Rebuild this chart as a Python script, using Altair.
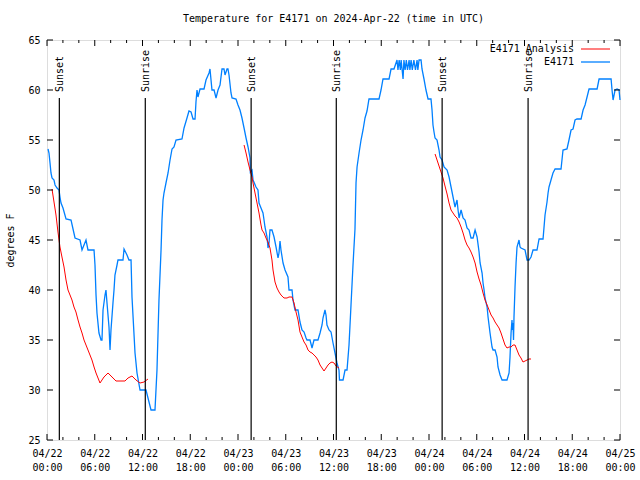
import json
import altair as alt
import pandas as pd

TITLE = "Temperature for E4171 on 2024-Apr-22 (time in UTC)"
FONT = "DejaVu Sans Mono"

# hours after 2024-04-22 00:00 UTC
blue_h = [0.13, 0.25, 0.38, 0.50, 0.63, 0.88, 1.01, 1.26, 1.51, 1.63,
          1.76, 2.01, 2.39, 3.02, 3.27, 3.52, 4.15, 4.40, 4.90, 5.15,
          5.91, 6.03, 6.16, 6.28, 6.53, 6.79, 6.91, 7.04, 7.29, 7.41,
          7.54, 7.79, 7.92, 8.04, 8.29, 8.42, 8.54, 8.80, 8.92, 9.55,
          9.68, 10.05, 10.30, 10.56, 10.68, 11.06, 11.31, 11.69, 12.44, 12.69,
          13.07, 13.57, 13.82, 14.07, 14.33, 14.45, 14.58, 14.70, 14.95, 15.21,
          15.46, 15.71, 15.96, 16.21, 16.96, 17.22, 17.59, 17.84, 18.10, 18.35,
          18.60, 18.72, 18.85, 18.97, 19.23, 19.73, 19.98, 20.36, 20.48, 20.73,
          20.99, 21.24, 21.49, 21.74, 21.99, 22.24, 22.37, 22.62, 22.74, 22.87,
          23.12, 23.25, 23.75, 24.00, 24.25, 24.50, 24.76, 25.01, 25.26, 25.51,
          25.55, 25.76, 25.89, 26.26, 26.51, 26.64, 26.89, 27.14, 27.27, 27.39,
          27.65, 27.77, 27.90, 28.02, 28.27, 28.53, 28.78, 29.03, 29.15, 29.28,
          29.40, 29.66, 29.91, 30.28, 30.41, 30.79, 30.91, 31.16, 31.54, 31.79,
          32.04, 32.30, 32.55, 32.67, 33.05, 33.30, 33.55, 34.05, 34.31, 34.56,
          34.68, 34.93, 35.06, 35.18, 35.44, 35.69, 35.94, 36.19, 36.44, 36.69,
          36.75, 37.20, 37.45, 37.70, 37.95, 38.20, 38.45, 38.70, 38.83, 38.96,
          39.21, 39.46, 39.71, 39.96, 40.21, 40.46, 41.72, 41.97, 42.22, 42.98,
          43.23, 43.60, 43.98, 44.10, 44.25, 44.40, 44.50, 44.74, 44.85, 45.00,
          45.15, 45.30, 45.50, 45.60, 45.75, 45.90, 46.10, 46.30, 46.50, 46.60,
          46.75, 47.00, 47.12, 47.37, 47.62, 47.88, 48.25, 48.38, 48.50, 48.63,
          48.76, 49.01, 49.26, 49.39, 49.64, 49.89, 50.27, 50.52, 50.77, 51.02,
          51.27, 51.52, 51.65, 51.78, 52.03, 52.28, 52.53, 52.78, 53.03, 53.28,
          53.54, 53.79, 54.04, 54.29, 54.42, 54.67, 54.79, 54.92, 55.04, 55.30,
          55.42, 55.67, 55.92, 56.05, 56.30, 56.55, 56.67, 56.93, 57.18, 57.80,
          58.06, 58.18, 58.31, 58.43, 58.49, 58.56, 58.62, 58.68, 58.81, 58.94,
          59.06, 59.31, 59.44, 59.56, 60.07, 60.32, 60.57, 60.82, 61.07, 61.57,
          61.83, 62.33, 62.58, 62.83, 62.96, 63.08, 63.33, 63.58, 63.84, 64.59,
          64.84, 65.34, 65.59, 65.85, 66.10, 66.35, 66.60, 67.11, 67.36, 67.61,
          67.86, 68.11, 69.12, 69.37, 70.88, 71.00, 71.13, 71.38, 71.63, 71.88,
          72.00]
blue_t = [54.1, 53.7, 52.7, 51.7, 51.2, 51.0, 50.5, 50.2, 50.0, 49.3,
          48.7, 48.2, 47.1, 47.0, 46.1, 45.2, 45.0, 44.0, 45.0, 44.0,
          44.0, 42.5, 39.5, 37.7, 35.7, 35.0, 35.0, 38.0, 39.5, 40.0,
          38.7, 36.3, 34.0, 36.0, 38.7, 40.0, 41.5, 42.5, 43.0, 43.0,
          44.1, 43.5, 43.0, 43.0, 39.3, 33.7, 31.7, 30.0, 30.0, 29.2,
          28.0, 28.0, 32.0, 39.0, 44.0, 47.0, 49.0, 49.7, 50.7, 51.7,
          53.0, 54.1, 54.3, 55.0, 55.1, 56.2, 57.2, 57.9, 57.8, 57.1,
          57.1, 58.8, 60.0, 59.3, 60.1, 60.1, 61.0, 61.7, 62.1, 60.0,
          60.0, 59.2, 60.0, 60.5, 62.1, 62.1, 61.5, 62.1, 62.1, 61.5,
          59.7, 59.2, 59.1, 58.5, 58.0, 57.2, 56.2, 55.2, 54.3, 53.2,
          51.8, 52.0, 51.0, 50.3, 50.0, 48.7, 48.2, 47.7, 47.0, 46.3,
          45.3, 44.2, 44.7, 46.0, 46.0, 45.3, 44.3, 43.2, 43.7, 44.9,
          44.0, 42.7, 42.0, 41.3, 40.0, 40.0, 39.0, 38.0, 38.0, 36.8,
          36.0, 35.8, 35.2, 35.0, 35.0, 34.2, 35.0, 35.0, 35.7, 36.5,
          37.2, 38.0, 37.5, 36.5, 36.0, 35.8, 34.7, 33.7, 32.7, 32.0,
          31.0, 31.0, 32.0, 32.0, 34.5, 38.5, 42.5, 46.1, 50.7, 52.3,
          53.7, 55.0, 56.0, 57.2, 57.9, 59.1, 59.1, 60.0, 61.1, 61.1,
          62.1, 62.1, 63.0, 62.0, 63.0, 62.0, 63.0, 61.1, 63.0, 62.0,
          63.0, 62.0, 63.0, 62.0, 63.0, 62.0, 63.0, 62.0, 63.0, 62.0,
          63.0, 63.0, 62.1, 61.1, 60.0, 59.1, 59.1, 58.0, 56.5, 55.8,
          55.2, 55.0, 54.0, 53.3, 53.0, 52.3, 52.0, 51.3, 50.3, 49.3,
          48.3, 49.0, 48.0, 47.2, 48.0, 47.2, 47.0, 46.2, 46.0, 45.2,
          45.2, 46.0, 45.3, 43.8, 42.7, 41.7, 40.7, 40.0, 39.2, 38.3,
          37.3, 35.7, 34.3, 34.0, 34.0, 33.3, 32.3, 31.5, 31.0, 31.0,
          31.7, 33.3, 35.7, 37.0, 36.0, 36.7, 35.0, 37.3, 40.3, 42.7,
          44.3, 45.0, 44.3, 44.2, 44.0, 43.0, 43.0, 43.3, 44.0, 44.0,
          45.1, 45.1, 47.5, 48.8, 49.7, 50.3, 51.0, 51.7, 52.1, 52.1,
          54.0, 54.1, 55.0, 56.0, 56.1, 57.0, 57.1, 57.1, 58.0, 58.5,
          59.3, 60.1, 60.1, 61.1, 61.1, 60.0, 59.0, 60.0, 60.1, 60.0,
          59.0]

red1_h = [0.63, 0.88, 1.13, 1.38, 1.63, 1.88, 2.14, 2.39, 2.64, 2.89,
          3.14, 3.39, 3.64, 3.90, 4.15, 4.40, 4.65, 4.90, 5.15, 5.40,
          5.65, 5.91, 6.16, 6.41, 6.66, 7.16, 7.67, 8.17, 8.67, 9.80,
          10.18, 10.68, 11.18, 11.69, 12.19, 12.69]
red1_t = [50.1, 48.8, 47.5, 45.8, 44.3, 43.3, 42.3, 41.0, 40.0, 39.5,
          39.0, 38.3, 37.8, 37.0, 36.3, 35.7, 35.0, 34.5, 34.0, 33.5,
          33.0, 32.3, 31.7, 31.2, 30.7, 31.3, 31.7, 31.3, 30.9, 30.9,
          31.2, 31.4, 31.0, 30.7, 30.8, 31.1]
red2_h = [24.76, 25.01, 25.26, 25.51, 25.76, 25.89, 26.14, 26.39, 26.64, 26.89,
          27.02, 27.27, 27.52, 27.77, 28.02, 28.27, 28.40, 28.65, 28.90, 29.15,
          29.40, 29.78, 30.16, 30.41, 30.79, 31.04, 31.29, 31.54, 31.79, 32.04,
          32.30, 32.55, 32.80, 33.05, 33.30, 33.55, 33.80, 34.05, 34.31, 34.56,
          34.81, 35.06, 35.31, 35.56, 35.81, 36.07, 36.32, 36.69]
red2_t = [54.5, 53.7, 52.8, 52.0, 51.3, 50.7, 49.7, 48.7, 47.7, 46.5,
          46.0, 45.7, 45.2, 44.8, 44.2, 43.0, 42.0, 40.8, 40.2, 39.8,
          39.5, 39.2, 39.2, 39.3, 39.3, 38.7, 37.8, 37.0, 35.8, 35.3,
          34.8, 34.5, 34.0, 33.8, 33.7, 33.5, 33.3, 33.0, 32.5, 32.2,
          31.9, 32.2, 32.5, 32.7, 32.8, 32.7, 32.4, 32.2]
red3_h = [48.76, 49.01, 49.26, 49.51, 49.76, 50.01, 50.27, 50.52, 50.77, 51.02,
          51.27, 51.52, 51.78, 52.03, 52.28, 52.53, 52.78, 53.03, 53.28, 53.54,
          53.79, 54.04, 54.29, 54.54, 54.79, 55.04, 55.30, 55.55, 55.80, 56.05,
          56.30, 56.55, 56.80, 57.05, 57.30, 57.55, 57.80, 58.06, 58.31, 58.56,
          58.81, 59.06, 59.31, 59.56, 59.81, 60.07, 60.32, 60.57, 60.82]
red3_t = [53.6, 53.0, 52.4, 51.8, 51.2, 50.4, 49.6, 48.7, 48.0, 47.7,
          47.4, 47.2, 46.8, 46.3, 45.7, 45.0, 44.5, 44.2, 43.8, 43.3,
          42.7, 41.8, 41.1, 40.5, 39.7, 39.0, 38.5, 38.0, 37.5, 37.2,
          36.8, 36.5, 36.2, 35.7, 35.1, 34.5, 34.2, 34.3, 34.3, 34.5,
          34.5, 34.0, 33.5, 33.2, 32.8, 32.9, 33.0, 33.1, 33.1]

event_h = [1.55, 12.35, 25.65, 36.35, 49.65, 60.45]
event_label = ["Sunset", "Sunrise", "Sunset", "Sunrise", "Sunset", "Sunrise"]

x_ticks = [0, 6, 12, 18, 24, 30, 36, 42, 48, 54, 60, 66, 72]
x_dates = ["04/22", "04/22", "04/22", "04/22", "04/23", "04/23", "04/23",
           "04/23", "04/24", "04/24", "04/24", "04/24", "04/25"]
x_times = ["00:00", "06:00", "12:00", "18:00", "00:00", "06:00", "12:00",
           "18:00", "00:00", "06:00", "12:00", "18:00", "00:00"]
x_minor = [h for h in range(0, 73, 2) if h % 6 != 0]
y_ticks = [25, 30, 35, 40, 45, 50, 55, 60, 65]
legend_labels = ["E4171 Analysis", "E4171"]
RED = "#ff0000"
BLUE = "#0080ff"

assert len(blue_h) == len(blue_t)
assert len(red1_h) == len(red1_t) and len(red2_h) == len(red2_t) and len(red3_h) == len(red3_t)

W, H = 573, 400

blue_df = pd.DataFrame({"h": blue_h, "t": blue_t, "i": range(len(blue_h))})
red_df = pd.concat([
    pd.DataFrame({"h": red1_h, "t": red1_t, "seg": "a"}),
    pd.DataFrame({"h": red2_h, "t": red2_t, "seg": "b"}),
    pd.DataFrame({"h": red3_h, "t": red3_t, "seg": "c"}),
], ignore_index=True)
red_df["i"] = range(len(red_df))
ev_df = pd.DataFrame({"h": event_h, "label": event_label})
major_df = pd.DataFrame({"h": x_ticks})
minor_df = pd.DataFrame({"h": x_minor})
ytick_df = pd.DataFrame({"t": y_ticks})

xscale = alt.Scale(domain=[0, 72], nice=False, zero=False)
yscale = alt.Scale(domain=[25, 65], nice=False, zero=False)

label_expr = "[{d}[round(datum.value/6)], {t}[round(datum.value/6)]]".format(
    d=json.dumps(x_dates), t=json.dumps(x_times))

xaxis = alt.Axis(values=x_ticks, labelExpr=label_expr, title=None, grid=False,
                 domain=False, ticks=False, labelPadding=8, labelFont=FONT,
                 labelFontSize=10, labelColor="black", labelLineHeight=14,
                 labelOverlap=False, labelFlush=False)
yaxis = alt.Axis(values=y_ticks, title="degrees F", grid=False, domain=False,
                 ticks=False, labelPadding=7, labelFont=FONT, labelFontSize=10,
                 labelColor="black", titleFont=FONT, titleFontSize=10,
                 titleFontWeight="normal", titleColor="black", titlePadding=12,
                 labelOverlap=False)


def X():
    return alt.X("h:Q", scale=xscale, axis=xaxis)


def Y():
    return alt.Y("t:Q", scale=yscale, axis=yaxis)


blue = alt.Chart(blue_df).mark_line(color=BLUE, strokeWidth=1.3).encode(
    x=X(), y=Y(), order="i:Q")
red = alt.Chart(red_df).mark_line(color=RED, strokeWidth=1).encode(
    x=X(), y=Y(), detail="seg:N", order="i:Q")

ev_lines = alt.Chart(ev_df).mark_rule(color="black", strokeWidth=1.2).encode(
    x=X(), y=alt.value(58), y2=alt.value(H))
ev_text = alt.Chart(ev_df).mark_text(
    angle=270, align="left", baseline="middle", dy=1, font=FONT, fontSize=10,
    color="black").encode(x=X(), y=alt.value(52), text="label:N")

maj_b = alt.Chart(major_df).mark_rule(color="black").encode(
    x=X(), y=alt.value(H), y2=alt.value(H - 6))
maj_t = alt.Chart(major_df).mark_rule(color="black").encode(
    x=X(), y=alt.value(0), y2=alt.value(6))
min_b = alt.Chart(minor_df).mark_rule(color="black").encode(
    x=X(), y=alt.value(H), y2=alt.value(H - 3))
min_t = alt.Chart(minor_df).mark_rule(color="black").encode(
    x=X(), y=alt.value(0), y2=alt.value(3))
yt_l = alt.Chart(ytick_df).mark_rule(color="black").encode(
    y=Y(), x=alt.value(0), x2=alt.value(6))
yt_r = alt.Chart(ytick_df).mark_rule(color="black").encode(
    y=Y(), x=alt.value(W), x2=alt.value(W - 6))

leg_red_t = alt.Chart(pd.DataFrame({"label": [legend_labels[0]]})).mark_text(
    align="right", baseline="middle", font=FONT, fontSize=10, color="black").encode(
    text="label:N", x=alt.value(527), y=alt.value(9))
leg_blue_t = alt.Chart(pd.DataFrame({"label": [legend_labels[1]]})).mark_text(
    align="right", baseline="middle", font=FONT, fontSize=10, color="black").encode(
    text="label:N", x=alt.value(527), y=alt.value(22))
leg_red_l = alt.Chart(pd.DataFrame({"label": [legend_labels[0]]})).mark_rule(
    color=RED, strokeWidth=1).encode(x=alt.value(534), x2=alt.value(563), y=alt.value(9))
leg_blue_l = alt.Chart(pd.DataFrame({"label": [legend_labels[1]]})).mark_rule(
    color=BLUE, strokeWidth=1.3).encode(x=alt.value(534), x2=alt.value(563), y=alt.value(22))

chart = alt.layer(
    blue, red, ev_lines, ev_text, maj_b, maj_t, min_b, min_t, yt_l, yt_r,
    leg_red_t, leg_blue_t, leg_red_l, leg_blue_l
).properties(
    width=W, height=H,
    title=alt.TitleParams(TITLE, font=FONT, fontSize=10, fontWeight="normal",
                          color="black", anchor="middle", frame="group", offset=11),
    autosize=alt.AutoSizeParams(type="none"),
    padding={"left": 47, "top": 40, "right": 20, "bottom": 40},
).configure_view(stroke="black", strokeWidth=1).configure(background="white")

chart.save("out.html", embed_options={"renderer": "svg", "actions": False})
